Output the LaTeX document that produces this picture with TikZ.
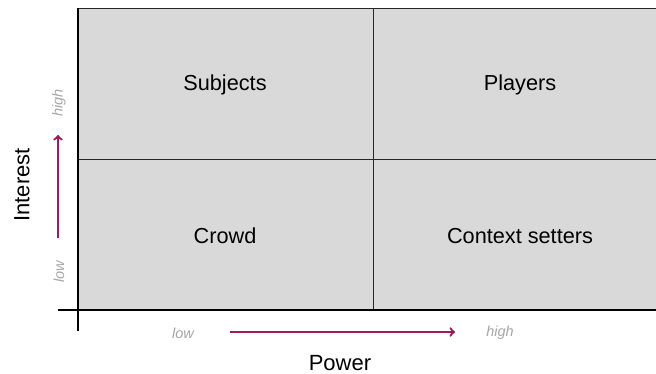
\documentclass[tikz,border=0pt]{standalone}
\usepackage{fontspec}
\setmainfont{Liberation Sans}
\usepackage{tikz}
\usetikzlibrary{arrows,shapes}
\usetikzlibrary{positioning}
\definecolor{quadfill}{HTML}{D9D9D9}
\definecolor{arrowred}{HTML}{A3195B}
\definecolor{lowhigh}{HTML}{A6A6A6}
\tikzstyle{quadline} = [draw=black!85, line width=0.7pt]
\tikzstyle{axisline} = [draw=black, line width=2pt]
\tikzstyle{quadlabel} = [font=\fontsize{21.7}{26}\selectfont]
\tikzstyle{axislabel} = [font=\fontsize{22}{26}\selectfont]
\tikzstyle{levellabel} = [text=lowhigh, font=\fontsize{14.5}{17}\selectfont\itshape]
\tikzstyle{dirarrow} = [-to, arrowred, line width=2.3pt]

\begin{document}
\begin{tikzpicture}[x=1pt, y=-1pt]
  \useasboundingbox (0,0) rectangle (656,374);
  % Quadrants
  \fill[quadfill] (78,8) rectangle (660,310);
  \draw[quadline] (78,8) -- (660,8);
  \draw[quadline] (78,159) -- (660,159);
  \draw[quadline] (373,8) -- (373,310);
  % Axes
  \draw[axisline] (78,8) -- (78,331);
  \draw[axisline] (58,310) -- (660,310);
  % Place nodes
  \node [quadlabel] (subjects) at (225,85) {Subjects};
  \node [quadlabel] (players) at (520,85) {Players};
  \node [quadlabel] (crowd) at (225,236) {Crowd};
  \node [quadlabel] (context) at (520,236) {Context setters};
  \node [axislabel] (power) at (340,363) {Power};
  \node [axislabel, rotate=90] (interest) at (22,185) {Interest};
  \node [levellabel] (plow) at (183,333) {low};
  \node [levellabel] (phigh) at (500,333) {high};
  \node [levellabel, rotate=90] (ilow) at (59,272) {low};
  \node [levellabel, rotate=90] (ihigh) at (59,103) {high};
  \coordinate (pstart) at (230,332);
  \coordinate (pend) at (455,332);
  \coordinate (istart) at (58,238);
  \coordinate (iend) at (58,135);
  \draw [dirarrow] (pstart) -- (pend);
  \draw [dirarrow] (istart) -- (iend);
\end{tikzpicture}
\end{document}
